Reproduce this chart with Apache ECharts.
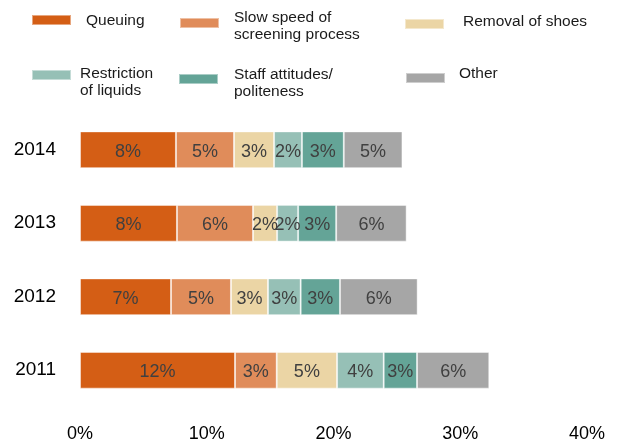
<!DOCTYPE html>
<html>
<head>
<meta charset="utf-8">
<script src="https://cdn.jsdelivr.net/npm/echarts@6/dist/echarts.min.js"></script>
<style>
  html, body { margin: 0; padding: 0; background: #fff; }
  #main { width: 621px; height: 443px; }
</style>
</head>
<body>
<div id="main"></div>
<script>
var years = ['2011', '2012', '2013', '2014'];
var queuing = [12.23, 7.18, 7.65, 7.57];
var slowSpeed = [3.29, 4.73, 6.0, 4.58];
var removalShoes = [4.76, 2.92, 1.9, 3.16];
var restrictionLiquids = [3.68, 2.58, 1.66, 2.2];
var staffAttitudes = [2.63, 3.1, 3.0, 3.3];
var other = [5.7, 6.13, 5.56, 4.63];
var xTicks = [0, 10, 20, 30, 40];

var names = ['Queuing', 'Slow speed of\nscreening process', 'Removal of shoes',
    'Restriction\nof liquids', 'Staff attitudes/\npoliteness', 'Other'];
var colors = ['#d45e15', '#e08c5a', '#ebd5a5', '#96c0b6', '#64a497', '#a6a6a6'];
var values = [queuing, slowSpeed, removalShoes, restrictionLiquids, staffAttitudes, other];

// the legend in the original is not on a grid, so swatch and text
// are placed separately for every entry
var swatchPos = [[31, 14], [179, 17], [404, 18], [31, 69], [178, 73], [405, 72]];
var textPos = [[81, 12.5], [229, 9.5], [458, 13], [75, 65], [229, 66], [454, 65.5]];

var myChart = echarts.init(document.getElementById('main'));

var legends = [];
names.forEach(function (n, i) {
    legends.push({
        data: [n],
        left: swatchPos[i][0],
        top: swatchPos[i][1],
        padding: 0,
        itemWidth: 39,
        itemHeight: 10,
        icon: 'rect',
        selectedMode: false,
        formatter: function () { return ''; },
        textStyle: {fontSize: 1, lineHeight: 1}
    });
    legends.push({
        data: [n],
        left: textPos[i][0],
        top: textPos[i][1],
        padding: 0,
        itemWidth: 0,
        itemHeight: 0,
        icon: 'none',
        selectedMode: false,
        textStyle: {
            fontFamily: 'Liberation Sans, Arial',
            fontSize: 15.5,
            lineHeight: 17,
            color: '#1a1a1a'
        }
    });
});

var series = names.map(function (n, i) {
    return {
        name: n,
        type: 'bar',
        stack: 'total',
        barWidth: '50%',
        data: values[i],
        itemStyle: {
            color: colors[i],
            borderColor: 'rgba(255,255,255,0.45)',
            borderWidth: 1
        },
        label: {
            show: true,
            position: 'inside',
            offset: [0, 2],
            fontFamily: 'Liberation Sans, Arial',
            fontSize: 18,
            color: '#404040',
            formatter: function (p) {
                return Math.round(p.value) + '%';
            }
        }
    };
});

var option = {
    animation: false,
    color: colors,
    legend: legends,
    grid: {
        left: 80,
        right: 34,
        top: 113,
        bottom: 34,
        containLabel: false
    },
    xAxis: {
        type: 'value',
        min: xTicks[0],
        max: xTicks[xTicks.length - 1],
        interval: 10,
        axisLine: {show: false},
        axisTick: {show: false},
        splitLine: {show: false},
        axisLabel: {
            margin: 18,
            fontFamily: 'Liberation Sans, Arial',
            fontSize: 18,
            color: '#000',
            formatter: '{value}%'
        }
    },
    yAxis: {
        type: 'category',
        data: years,
        axisLine: {show: false},
        axisTick: {show: false},
        axisLabel: {
            margin: 24,
            fontFamily: 'Liberation Sans, Arial',
            fontSize: 19,
            color: '#000',
            padding: [3, 0, 0, 0]
        }
    },
    series: series
};
myChart.setOption(option);
</script>
</body>
</html>
